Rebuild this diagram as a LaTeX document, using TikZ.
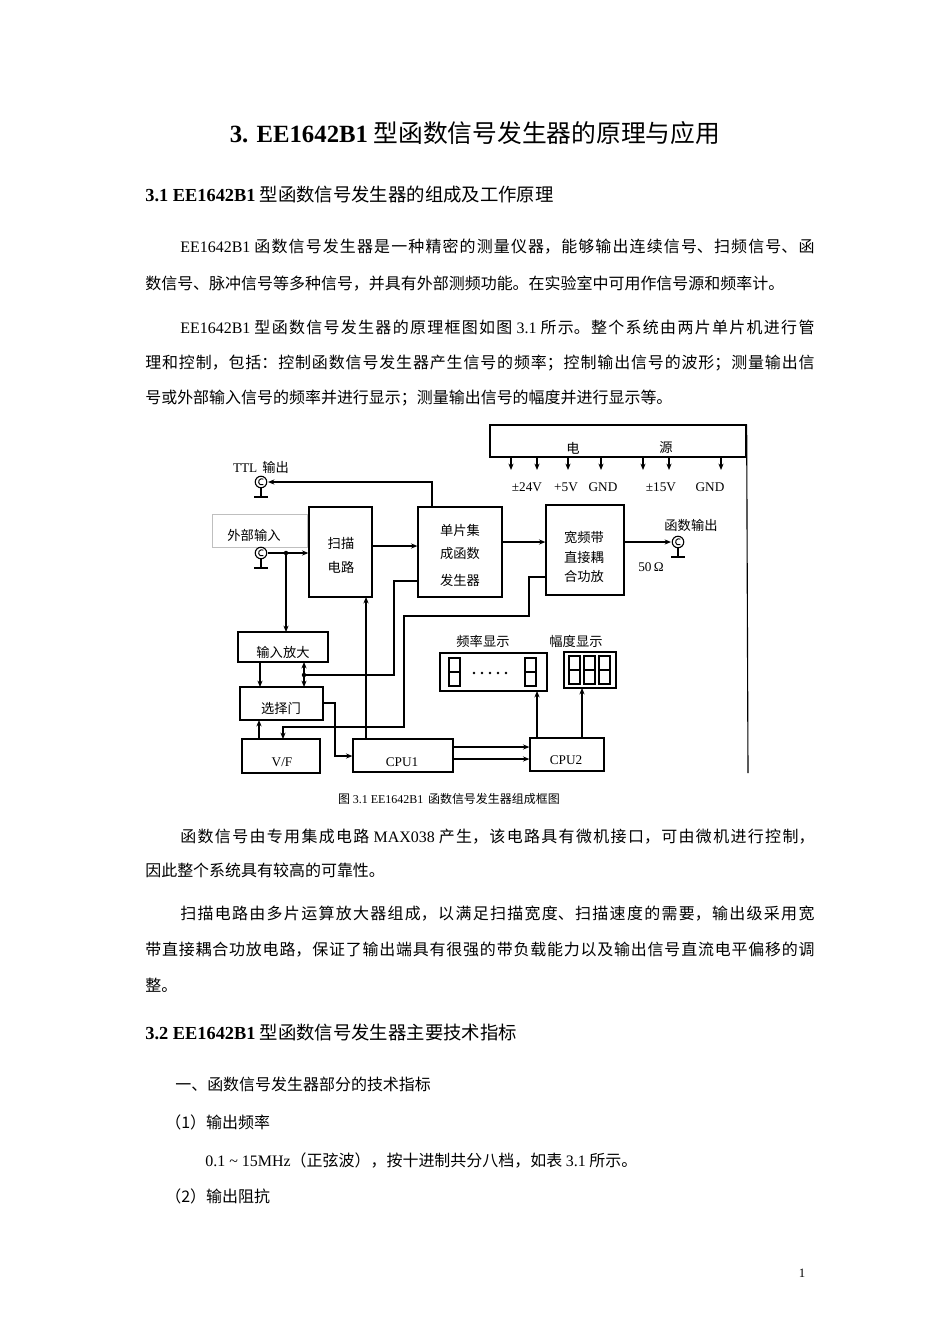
\documentclass[tikz,border=0pt]{standalone}
\usepackage{fontspec}
\setmainfont{Noto Sans CJK SC}
\newfontfamily\lat{Liberation Serif}
\usetikzlibrary{arrows.meta,fit}
\newcommand\E[1]{{\lat #1}}
\newcommand\jline[2]{\parbox{#1}{\XeTeXlinebreaklocale "zh"\XeTeXlinebreakskip=0pt plus 3pt minus 0.3pt\parfillskip=0pt\hbadness=10000 #2}}
\newcommand\bnc[2]{\draw[line width=0.7pt] (#1,#2) circle[radius=3.6pt];
  \draw[line width=0.6pt] ([xshift=1.5pt,yshift=1.8pt]#1,#2) arc[start angle=60,end angle=300,radius=2pt];
  \draw[line width=0.7pt] (#1,#2+6) -- (#1,#2+15) (#1-7,#2+15) -- (#1+7,#2+15);}
\newcommand\seg[2]{\draw[line width=1.1pt] (#1,#2) rectangle (#1+11,#2+28) (#1,#2+14) -- (#1+11,#2+14);}
\begin{document}
\begin{tikzpicture}[x=0.626pt,y=-0.626pt,
  box/.style={draw,line width=0.8pt,inner sep=0pt},
  arr/.style={-{Stealth[length=4pt,width=3.2pt]},line width=0.7pt},
  wire/.style={line width=0.7pt},
  body/.style={anchor=base west,inner sep=0pt,font=\fontsize{10pt}{12pt}\selectfont},
  dtxt/.style={inner sep=0pt,font=\fontsize{8.3pt}{10pt}\selectfont}]
\fill[white] (0,0) rectangle (950,1344);
\useasboundingbox (0,0) rectangle (950,1344);
% title and headings
\node[anchor=base,inner sep=0pt,font=\fontsize{15.5pt}{18pt}\selectfont] (title) at (475,142) {{\lat\bfseries 3. EE1642B1} 型函数信号发生器的原理与应用};
\node[anchor=base west,inner sep=0pt,font=\fontsize{11.5pt}{14pt}\selectfont] (h1) at (145,201) {{\lat\bfseries 3.1 EE1642B1} 型函数信号发生器的组成及工作原理};
\node[body] (p1) at (180,251) {\jline{397pt}{\E{EE1642B1} 函数信号发生器是一种精密的测量仪器，能够输出连续信号、扫频信号、函}};
\node[body] (p2) at (145,289) {数信号、脉冲信号等多种信号，并具有外部测频功能。在实验室中可用作信号源和频率计。};
\node[body] (p3) at (180,331) {\jline{397pt}{\E{EE1642B1} 型函数信号发生器的原理框图如图 \E{3.1} 所示。整个系统由两片单片机进行管}};
\node[body] (p4) at (145,367) {\jline{419pt}{理和控制，包括：控制函数信号发生器产生信号的频率；控制输出信号的波形；测量输出信}};
\node[body] (p5) at (145,403) {号或外部输入信号的频率并进行显示；测量输出信号的幅度并进行显示等。};
% diagram
\node[box,fit={(490,425)(746,457)}] (pw) {};
\node[dtxt] (pwa) at (573,448) {电};
\node[dtxt] (pwb) at (666,448) {源};
\draw[wire] (pw.north east) -- (748,773);
\foreach \x in {511,537,568,601,643,669,721} \draw[arr] (\x,457) -- (\x,470);
\node[dtxt,anchor=base] (v1) at (527,491) {\E{±24V}};
\node[dtxt,anchor=base] (v2) at (566,491) {\E{+5V}};
\node[dtxt,anchor=base] (v3) at (603,491) {\E{GND}};
\node[dtxt,anchor=base] (v4) at (661,491) {\E{±15V}};
\node[dtxt,anchor=base] (v5) at (710,491) {\E{GND}};
\node[dtxt] (ttl) at (261,467) {\E{TTL}\, 输出};
\bnc{261}{482}
\coordinate (ttlc) at (268,482);
\node[draw=black!25,line width=0.4pt,fit={(212,514)(307,547)},inner sep=0pt] (extb) {};
\node[dtxt] (ext) at (254,535) {外部输入};
\bnc{261}{553}
\coordinate (extc) at (268,553);
\node[box,fit={(309,507)(372,597)}] (sm) {};
\node[dtxt] at (341,543) {扫描};
\node[dtxt] at (341,567) {电路};
\node[box,fit={(418,507)(502,597)}] (fg) {};
\node[dtxt] at (460,530) {单片集};
\node[dtxt] at (460,553) {成函数};
\node[dtxt] at (460,580) {发生器};
\node[box,fit={(546,505)(624,595)}] (amp) {};
\node[dtxt] at (584,537) {宽频带};
\node[dtxt] at (584,557) {直接耦};
\node[dtxt] at (584,576) {合功放};
\bnc{678}{542}
\coordinate (outc) at (671,542);
\node[dtxt] (fo) at (691,525) {函数输出};
\node[dtxt] (ohm) at (651,567) {\E{50\,Ω}};
\node[box,fit={(238,632)(328,662)}] (inamp) {};
\node[dtxt] at (283,652) {输入放大};
\node[box,fit={(240,687)(323,720)}] (sel) {};
\node[dtxt] at (281,708) {选择门};
\node[box,line width=1.4pt,fit={(242,739)(320,773)}] (vf) {};
\node[dtxt] at (282,762) {\E{V/F}};
\node[box,fit={(353,739)(453,772)}] (cpu1) {};
\node[dtxt] at (402,762) {\E{CPU1}};
\node[box,fit={(530,738)(604,771)}] (cpu2) {};
\node[dtxt] at (566,760) {\E{CPU2}};
\node[box,fit={(440,653)(547,691)}] (fd) {};
\node[dtxt] at (483,641) {频率显示};
\node[box,fit={(564,652)(616,688)}] (ad) {};
\node[dtxt] at (576,641) {幅度显示};
\seg{449}{658}\seg{525}{658}
\foreach \x in {474,482,490,498,506} \fill (\x,673) circle[radius=0.8pt];
\seg{569}{656}\seg{584}{656}\seg{599}{656}
% connectors
\draw[arr] (fg.north -| 432,0) -- (432,482) -- (ttlc);
\draw[arr] (extc) -- (extc -| sm.west);
\fill (286,553) circle[radius=1.4pt];
\draw[arr] (286,553) -- (286,632);
\draw[arr] (sm.east |- 0,546) -- (fg.west |- 0,546);
\draw[arr] (fg.east |- 0,542) -- (amp.west |- 0,542);
\draw[arr] (amp.east |- 0,542) -- (outc);
\draw[wire] (fg.west |- 0,581) -- (394,581) -- (394,675) -- (304,675);
\fill (304,675) circle[radius=1.4pt];
\draw[arr] (304,675) -- (304,662);
\draw[arr] (304,675) -- (304,687);
\draw[arr] (amp.west |- 0,577) -- (529,577) -- (529,616) -- (404,616) -- (404,727) -- (283,727) -- (283,739);
\draw[arr] (366,739) -- (366,597);
\draw[arr] (260,662) -- (260,687);
\draw[arr] (259,739) -- (259,720);
\draw[arr] (sel.east |- 0,703) -- (335,703) -- (335,756) -- (cpu1.west |- 0,756);
\draw[arr] (cpu1.east |- 0,747) -- (cpu2.west |- 0,747);
\draw[arr] (cpu1.east |- 0,759) -- (cpu2.west |- 0,759);
\draw[arr] (537,738) -- (537,691);
\draw[arr] (582,738) -- (582,688);
\node[dtxt,font=\fontsize{7.5pt}{9pt}\selectfont] (cap) at (449,799) {图 \E{3.1 EE1642B1}\, 函数信号发生器组成框图};
% after text
\node[body] (q1) at (180,841) {\jline{397pt}{函数信号由专用集成电路 \E{MAX038} 产生，该电路具有微机接口，可由微机进行控制，}};
\node[body] (q2) at (145,876) {因此整个系统具有较高的可靠性。};
\node[body] (q3) at (180,918) {\jline{397pt}{扫描电路由多片运算放大器组成，以满足扫描宽度、扫描速度的需要，输出级采用宽}};
\node[body] (q4) at (145,954) {\jline{419pt}{带直接耦合功放电路，保证了输出端具有很强的带负载能力以及输出信号直流电平偏移的调}};
\node[body] (q5) at (145,991) {整。};
\node[anchor=base west,inner sep=0pt,font=\fontsize{11.5pt}{14pt}\selectfont] (h2) at (145,1039) {{\lat\bfseries 3.2 EE1642B1} 型函数信号发生器主要技术指标};
\node[body] (r1) at (175,1090) {一、函数信号发生器部分的技术指标};
\node[body] (r2) at (165,1128) {（1）输出频率};
\node[body] (r3) at (205,1166) {\E{0.1 \textasciitilde\ 15MHz}（正弦波），按十进制共分八档，如表 \E{3.1} 所示。};
\node[body] (r4) at (165,1202) {（2）输出阻抗};
\node[anchor=base,inner sep=0pt,font=\fontsize{8pt}{9pt}\selectfont] (pg) at (802,1277) {\E{1}};
\end{tikzpicture}
\end{document}
